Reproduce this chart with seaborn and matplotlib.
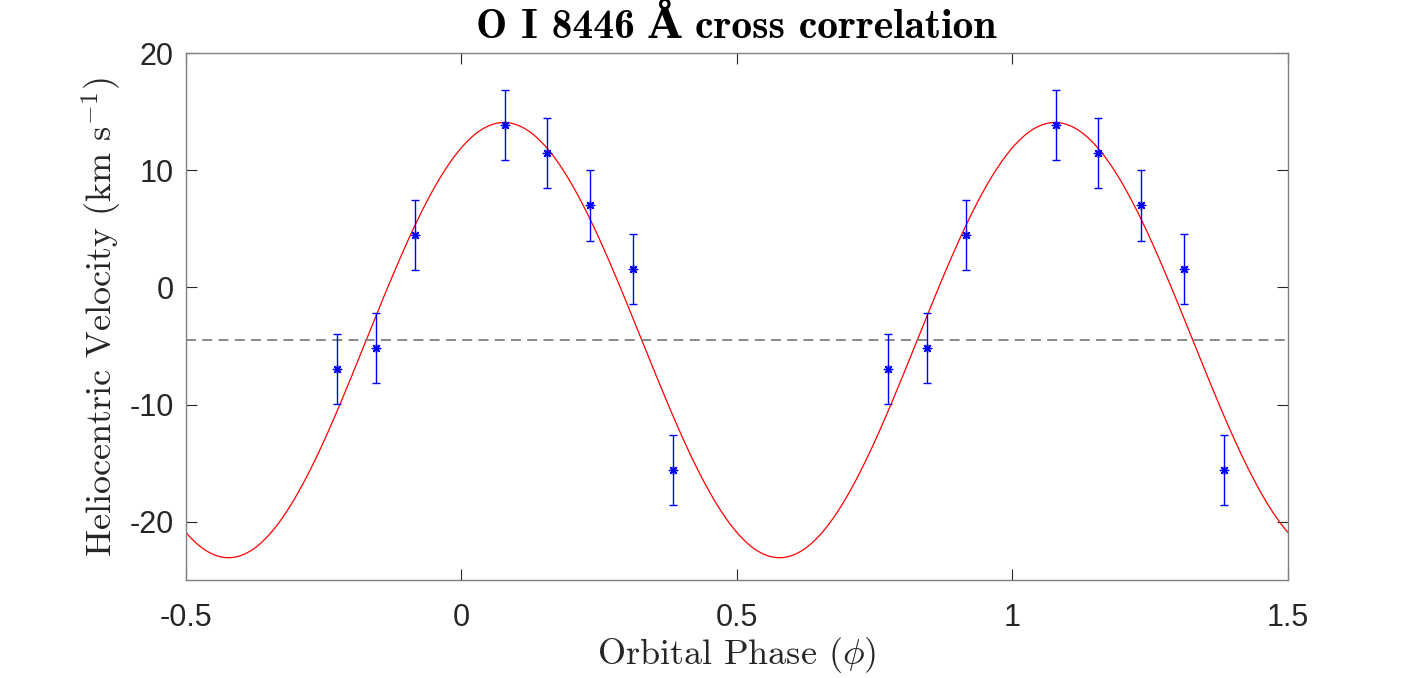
import numpy as np
import pandas as pd
import matplotlib
matplotlib.use("Agg")
import matplotlib.pyplot as plt
import seaborn as sns

# Observed data (one cycle; repeated at +1 in phase)
phase = [-0.226, -0.155, -0.083, 0.079, 0.156, 0.234, 0.312, 0.384]
velocity = [-6.96, -5.17, 4.49, 13.87, 11.46, 6.99, 1.57, -15.6]
vel_err = [3.0, 3.0, 3.0, 3.0, 3.0, 3.0, 3.0, 3.0]

# Fitted sinusoid parameters
gamma = -4.5      # systemic velocity (km/s)
K_amp = 18.57     # semi-amplitude (km/s)
phi_max = 0.0777  # phase of maximum velocity

xticks = [-0.5, 0, 0.5, 1, 1.5]
xtick_labels = ["-0.5", "0", "0.5", "1", "1.5"]
yticks = [-20, -10, 0, 10, 20]
ytick_labels = ["-20", "-10", "0", "10", "20"]

sns.set_theme(style="white")
plt.rcParams["mathtext.fontset"] = "cm"
plt.rcParams["font.family"] = ["Liberation Sans", "DejaVu Sans"]
plt.rcParams["axes.unicode_minus"] = False

obs = pd.DataFrame({
    "phase": list(phase) + [p + 1 for p in phase],
    "vel": velocity * 2,
    "err": vel_err * 2,
})
model_phase = np.linspace(-0.5, 1.5, 801)
model = pd.DataFrame({
    "phase": model_phase,
    "vel": gamma + K_amp * np.cos(2 * np.pi * (model_phase - phi_max)),
})

fig = plt.figure(figsize=(14.24, 6.78), dpi=100)
ax = fig.add_axes([0.1304, 0.1441, 0.7739, 0.7777])

sns.lineplot(data=model, x="phase", y="vel", ax=ax, color="#ff0000", lw=0.9)
ax.axhline(gamma, color="#808080", ls=(0, (5.5, 3.5)), lw=1.3)
ax.errorbar(obs["phase"], obs["vel"], yerr=obs["err"], fmt="none",
            ecolor="#0000ff", elinewidth=1.0, capsize=3.2, capthick=1.0)
sns.scatterplot(data=obs, x="phase", y="vel", ax=ax, marker=(8, 2, 0),
                color="#0000ff", s=36, linewidth=1.0, edgecolor="#0000ff", zorder=5)

ax.set_xlim(-0.5, 1.5)
ax.set_ylim(-25, 20)
ax.set_xticks(xticks)
ax.set_xticklabels(xtick_labels)
ax.set_yticks(yticks)
ax.set_yticklabels(ytick_labels)
ax.tick_params(direction="in", length=8, width=0.8, color="#262626",
               labelsize=22, labelcolor="#262626", top=True, right=True,
               left=True, bottom=True)
ax.tick_params(axis="x", pad=16)
ax.tick_params(axis="y", pad=8.5)
for sp in ax.spines.values():
    sp.set_color("#808080")
    sp.set_linewidth(1.0)

ax.set_xlabel(r"Orbital Phase ($\phi$)", fontsize=26, labelpad=2,
              family=["cmr10"], color="#262626")
ax.set_ylabel(r"Heliocentric Velocity (km s$^{-1}$)", fontsize=26, labelpad=4,
              family=["cmr10"], color="#262626")
ax.set_title("O I 8446 Å cross correlation", fontsize=30, pad=11,
             family=["cmb10", "DejaVu Serif"], fontweight="bold", color="black")

fig.savefig("out.png", dpi=100)
